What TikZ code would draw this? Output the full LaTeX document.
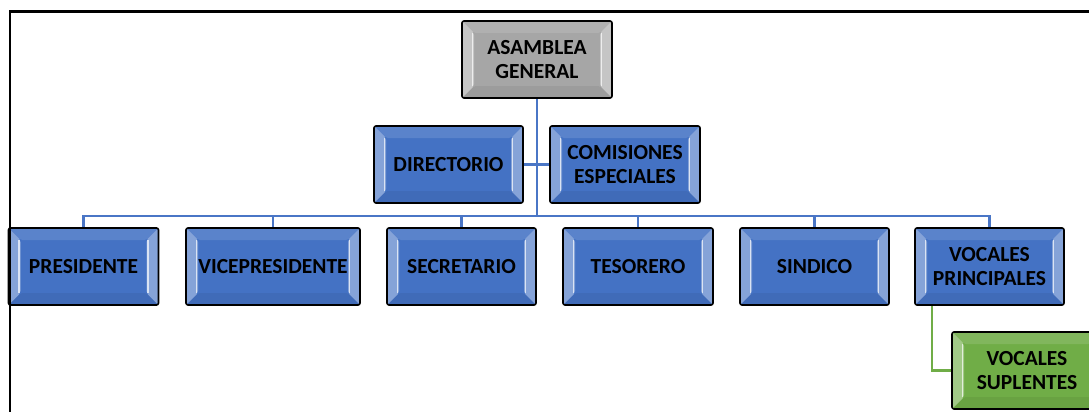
\documentclass[tikz,border=0pt]{standalone}
\usepackage{fontspec}
\setmainfont{Carlito}
\usetikzlibrary{calc}
\definecolor{boxblue}{HTML}{4472C4}
\definecolor{boxgray}{HTML}{A6A6A6}
\definecolor{boxgreen}{HTML}{70AD47}
\definecolor{lineblue}{HTML}{4A76C6}
\definecolor{linegreen}{HTML}{70AD47}
\tikzset{
  bevel/.style={path picture={
    \fill[white,opacity=0.35] (path picture bounding box.north west) -- ++(12pt,-12pt)
      -- ([xshift=12pt,yshift=12pt]path picture bounding box.south west)
      -- (path picture bounding box.south west) -- cycle;
    \fill[white,opacity=0.35] (path picture bounding box.north east) -- ++(-12pt,-12pt)
      -- ([xshift=-12pt,yshift=12pt]path picture bounding box.south east)
      -- (path picture bounding box.south east) -- cycle;
    \fill[white,opacity=0.12] (path picture bounding box.north west) -- ++(12pt,-12pt)
      -- ([xshift=-12pt,yshift=-12pt]path picture bounding box.north east)
      -- (path picture bounding box.north east) -- cycle;
    \fill[black,opacity=0.06] (path picture bounding box.south west) -- ++(12pt,12pt)
      -- ([xshift=-12pt,yshift=12pt]path picture bounding box.south east)
      -- (path picture bounding box.south east) -- cycle;
    \draw[white,opacity=0.7,line width=1.5pt]
      ([xshift=10.5pt,yshift=-12pt]path picture bounding box.north west) --
      ([xshift=10.5pt,yshift=12pt]path picture bounding box.south west);
    \draw[white,opacity=0.7,line width=1.5pt]
      ([xshift=-10.5pt,yshift=-12pt]path picture bounding box.north east) --
      ([xshift=-10.5pt,yshift=12pt]path picture bounding box.south east);
  }},
  orgbox/.style={draw=black, line width=1.6pt, rounded corners=2pt, bevel,
    minimum height=77pt, minimum width=150pt, inner sep=0pt, align=center,
    font=\fontsize{21.5}{24}\selectfont\bfseries},
  bluebox/.style={orgbox, fill=boxblue},
  graybox/.style={orgbox, fill=boxgray},
  greenbox/.style={orgbox, fill=boxgreen},
  conn/.style={draw=lineblue, line width=2.6pt},
  gconn/.style={draw=linegreen, line width=2.6pt},
}
\begin{document}
\begin{tikzpicture}[x=1pt,y=-1pt]
\useasboundingbox (0,0) rectangle (1089,412);
\coordinate (hub) at (537,216);
% connectors
\draw[conn] (537,59) -- (hub);
\draw[conn] (448,164.5) -- (625,164.5);
\foreach \cx in {83.5,273,461.5,638,814.5,989.5}
  \draw[conn] (hub) -| (\cx,266);
\draw[gconn] (932,266) |- (1027,370.5);
% nodes
\node[graybox] (asamblea) at (537,59.5) {ASAMBLEA\\GENERAL};
\node[bluebox, minimum width=149pt] (directorio) at (448.5,164.5) {DIRECTORIO};
\node[bluebox] (comisiones) at (625,164.5) {COMISIONES\\ESPECIALES};
\node[bluebox] (presidente) at (83.5,266.5) {PRESIDENTE};
\node[bluebox, minimum width=174pt] (vice) at (273,266.5) {VICEPRESIDENTE};
\node[bluebox, minimum width=149pt] (secretario) at (461.5,266.5) {SECRETARIO};
\node[bluebox] (tesorero) at (638,266.5) {TESORERO};
\node[bluebox, minimum width=149pt] (sindico) at (814.5,266.5) {SINDICO};
\node[bluebox, minimum width=149pt] (principales) at (989.5,266.5) {VOCALES\\PRINCIPALES};
\node[greenbox] (suplentes) at (1027,370.5) {VOCALES\\SUPLENTES};
% frame
\draw[black, line width=2.6pt] (10,412) -- (10,11.3) -- (1089,11.3);
\end{tikzpicture}
\end{document}
